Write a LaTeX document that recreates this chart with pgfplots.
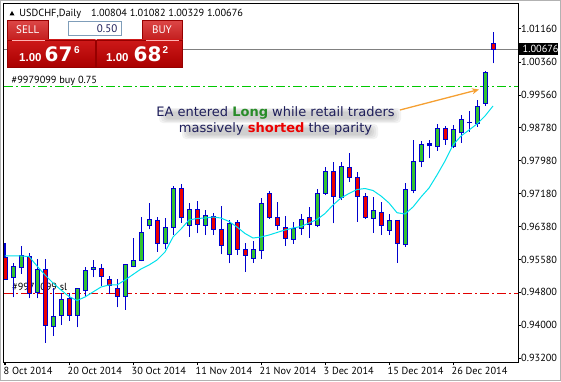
\documentclass[border=0pt]{standalone}
\usepackage{pgfplots}
\pgfplotsset{compat=1.18}
\usepackage{pgfplotstable}
\usepackage{fontspec}
\setmainfont{PT Sans}
\newfontfamily\dejavu{DejaVu Sans}
\newfontfamily\libsans{Liberation Sans}
\usetikzlibrary{arrows.meta}

\definecolor{cblue}{RGB}{0,0,205}
\definecolor{cgreen}{RGB}{50,195,50}
\definecolor{cred}{RGB}{235,0,0}
\definecolor{macyan}{RGB}{0,225,235}
\definecolor{ordergreen}{RGB}{0,200,0}
\definecolor{orderred}{RGB}{225,0,0}
\definecolor{navytxt}{RGB}{30,30,90}
\definecolor{longgreen}{RGB}{40,140,40}
\definecolor{arroworange}{RGB}{245,160,50}
\definecolor{tabtop}{RGB}{220,70,70}
\definecolor{tabbot}{RGB}{195,30,30}
\definecolor{pricetop}{RGB}{205,25,25}
\definecolor{pricebot}{RGB}{170,0,0}
\definecolor{tabborder}{RGB}{150,0,0}
\definecolor{lotborder}{RGB}{127,157,185}

\newcommand{\sm}{\fontsize{10.3}{12}\selectfont}

\pgfplotstableread{
i O H L C
1 0.95148 0.95496 0.94674 0.95431
2 0.95400 0.95915 0.95238 0.95673
4 0.94786 0.95593 0.94650 0.95351
6 0.93964 0.94892 0.93739 0.94222
7 0.94239 0.94771 0.94005 0.94626
9 0.94239 0.94895 0.93949 0.94892
10 0.94851 0.95400 0.94689 0.95334
11 0.95351 0.95576 0.95158 0.95400
15 0.94689 0.95479 0.94368 0.95472
16 0.95431 0.96101 0.95400 0.95576
17 0.95559 0.96616 0.95540 0.96229
18 0.96398 0.96947 0.96318 0.96560
20 0.95963 0.96599 0.95835 0.96367
21 0.96367 0.97372 0.96180 0.97309
23 0.96422 0.96947 0.96139 0.96802
25 0.96422 0.96785 0.96180 0.96640
28 0.95721 0.96543 0.95496 0.96463
31 0.95617 0.96035 0.95511 0.95818
32 0.95801 0.97068 0.95600 0.96930
36 0.96077 0.96502 0.95963 0.96342
37 0.96342 0.96688 0.96180 0.96560
39 0.96422 0.97285 0.96367 0.97188
40 0.97188 0.97817 0.97147 0.97710
42 0.97092 0.97952 0.97026 0.97848
46 0.96584 0.97092 0.96236 0.96761
48 0.96301 0.96688 0.96180 0.96526
50 0.95939 0.97430 0.95902 0.97285
51 0.97268 0.98477 0.97188 0.97952
52 0.97952 0.98460 0.97817 0.98373
54 0.98315 0.98856 0.98218 0.98760
56 0.98315 0.98832 0.98276 0.98735
57 0.98653 0.99081 0.98412 0.98977
59 0.98864 0.99444 0.98798 0.99282
60 0.99364 1.00145 0.99299 1.00113
}\bull

\pgfplotstableread{
i O H L C
0 0.95641 0.95994 0.95093 0.95110
3 0.95656 0.95753 0.94650 0.94771
5 0.95351 0.95593 0.93577 0.93981
8 0.94650 0.94771 0.94109 0.94230
12 0.95376 0.95479 0.94948 0.95189
13 0.95110 0.95189 0.94754 0.94948
14 0.94892 0.95110 0.94433 0.94699
19 0.96543 0.96608 0.95777 0.95963
22 0.97309 0.97406 0.96478 0.96599
24 0.96785 0.97002 0.96222 0.96446
26 0.96623 0.96719 0.96180 0.96318
27 0.96325 0.96881 0.95714 0.95915
29 0.96478 0.96543 0.95697 0.95818
30 0.95818 0.95980 0.95293 0.95673
33 0.97188 0.97244 0.96579 0.96608
34 0.96608 0.96971 0.96301 0.96398
35 0.96357 0.96640 0.95915 0.96096
38 0.96608 0.96864 0.96115 0.96446
41 0.97710 0.97952 0.96463 0.97123
43 0.97817 0.98155 0.97469 0.97575
44 0.97575 0.97710 0.96502 0.97123
45 0.97106 0.97188 0.96567 0.96608
47 0.96729 0.96985 0.96180 0.96398
49 0.96543 0.96555 0.95511 0.95975
55 0.98760 0.98815 0.98356 0.98494
61 1.00804 1.01082 1.00329 1.00676
}\bear

\pgfplotstableread{
i O H L C
53 0.98339 0.98477 0.98034 0.98373
58 0.98895 0.99185 0.98677 0.98897
}\doji

\pgfplotstableread{
i MA
0 0.95673
1 0.95673
2 0.95673
3 0.95661
4 0.95431
5 0.95214
6 0.95020
7 0.94851
8 0.94694
9 0.94597
10 0.94682
11 0.94803
12 0.94923
13 0.94972
14 0.94972
15 0.95093
16 0.95226
17 0.95359
18 0.95455
19 0.95576
20 0.95769
21 0.96132
22 0.96325
23 0.96543
24 0.96579
25 0.96591
26 0.96616
27 0.96591
28 0.96507
29 0.96374
30 0.96217
31 0.96108
32 0.96132
33 0.96180
34 0.96241
35 0.96301
36 0.96350
37 0.96386
38 0.96471
39 0.96555
40 0.96700
41 0.96906
42 0.97075
43 0.97184
44 0.97280
45 0.97304
46 0.97256
47 0.97123
48 0.96954
49 0.96719
50 0.96688
51 0.96857
52 0.97099
53 0.97316
54 0.97631
55 0.97969
56 0.98356
57 0.98573
58 0.98718
59 0.98864
60 0.99057
61 0.99299
}\ma

\newcommand{\lineA}[1]{EA entered \textbf{\textcolor{#1}{Long}} while retail traders}
\newcommand{\lineB}[1]{massively \textbf{\textcolor{#1}{shorted}} the parity}

\begin{document}
\begin{tikzpicture}
\useasboundingbox (-4pt,-19pt) rectangle (557pt,362pt);
\begin{axis}[
  at={(0pt,0pt)}, anchor=south west,
  scale only axis, width=514pt, height=358pt,
  xmin=-0.125, xmax=64.125, ymin=0.931106, ymax=1.017641,
  axis on top,
  axis line style={black, line width=1pt},
  tick style={black, line width=1pt},
  major tick length=3pt, tick align=outside,
  xtick pos=bottom, ytick pos=right, yticklabel pos=right,
  xtick={0,8,16,24,32,40,48,56},
  xticklabels={8 Oct 2014,20 Oct 2014,30 Oct 2014,11 Nov 2014,21 Nov 2014,3 Dec 2014,15 Dec 2014,26 Dec 2014},
  ytick={0.932,0.94,0.948,0.9558,0.9638,0.9718,0.9798,0.9878,0.9956,1.0036,1.0116},
  yticklabels={0.93200,0.94000,0.94800,0.95580,0.96380,0.97180,0.97980,0.98780,0.99560,1.00360,1.01160},
  xticklabel style={anchor=north west, inner sep=0pt, font=\sm, xshift=-1.5pt, yshift=-2pt},
  yticklabel style={anchor=west, inner sep=0pt, font=\sm},
]
% order and price lines
\addplot[ordergreen, line width=1pt, dash pattern=on 9pt off 3pt on 2pt off 3pt] coordinates {(-0.125,0.99775) (64.125,0.99775)};
\addplot[orderred, line width=1pt, dash pattern=on 9pt off 3pt on 2pt off 3pt] coordinates {(-0.125,0.94771) (64.125,0.94771)};
\addplot[gray, line width=1pt] coordinates {(-0.125,1.00676) (64.125,1.00676)};
\node[anchor=base west, inner sep=0pt, font=\sm] at (axis cs:0.875,0.94851) {\#9979099 sl};
% wicks
\addplot[cblue, line width=1pt, quiver={u=0, v=\thisrow{H}-\thisrow{L}}] table[x=i, y=L] {\bull};
\addplot[cblue, line width=1pt, quiver={u=0, v=\thisrow{H}-\thisrow{L}}] table[x=i, y=L] {\bear};
\addplot[cblue, line width=1pt, quiver={u=0, v=\thisrow{H}-\thisrow{L}}] table[x=i, y=L] {\doji};
% bodies: outline
\addplot[cblue, line width=5pt, line cap=butt, shorten <=-0.5pt, shorten >=-0.5pt, quiver={u=0, v=\thisrow{C}-\thisrow{O}}] table[x=i, y=O] {\bull};
\addplot[cblue, line width=5pt, line cap=butt, shorten <=-0.5pt, shorten >=-0.5pt, quiver={u=0, v=\thisrow{C}-\thisrow{O}}] table[x=i, y=O] {\bear};
\addplot[cblue, line width=5pt, line cap=butt, shorten <=-0.8pt, shorten >=-0.8pt, quiver={u=0, v=\thisrow{C}-\thisrow{O}}] table[x=i, y=O] {\doji};
% bodies: fill
\addplot[cgreen, line width=3pt, line cap=butt, shorten <=0.5pt, shorten >=0.5pt, quiver={u=0, v=\thisrow{C}-\thisrow{O}}] table[x=i, y=O] {\bull};
\addplot[cred, line width=3pt, line cap=butt, shorten <=0.5pt, shorten >=0.5pt, quiver={u=0, v=\thisrow{C}-\thisrow{O}}] table[x=i, y=O] {\bear};
% moving average
\addplot[macyan, line width=1pt] table[x=i, y=MA] {\ma};
\end{axis}

\begin{scope}[shift={(-4pt,362pt)}, x=1pt, y=-1pt]
% outer border
\draw[gray!60, line width=1pt] (0.5,0.5) rectangle (560.5,380.5);
% title
\fill (9.5,15.5) -- (14.5,15.5) -- (12,11) -- cycle;
\node[anchor=base west, inner sep=0pt, font=\sm] at (19.3,16.2) {USDCHF,Daily};
\node[anchor=base west, inner sep=0pt, font=\sm] at (91,16.2) {1.00804 1.01082 1.00329 1.00676};
% one-click panel
\shade[top color=tabtop, bottom color=tabbot, draw=tabborder] (7.5,20.5) rectangle (48.5,40);
\shade[top color=pricetop, bottom color=pricebot, draw=tabborder] (7.5,40) rectangle (95.5,67);
\shade[top color=tabtop, bottom color=tabbot, draw=tabborder] (142.5,20.5) rectangle (182.5,40);
\shade[top color=pricetop, bottom color=pricebot, draw=tabborder] (96.5,40) rectangle (182.5,67);
\draw[white!70!red, line width=0.6pt] (12,40) -- (45,40);
\draw[white!70!red, line width=0.6pt] (146,40) -- (179,40);
\node[anchor=base, inner sep=0pt, text=white, font=\fontsize{11}{12}\selectfont] at (27.8,33.4) {SELL};
\node[anchor=base, inner sep=0pt, text=white, font=\fontsize{11}{12}\selectfont] at (162,33.4) {BUY};
\draw[fill=white, draw=lotborder] (68.5,21.5) rectangle (121.5,35.5);
\node[anchor=base east, inner sep=0pt, text=navytxt, font=\fontsize{11}{12}\selectfont] at (117.5,32.3) {0.50};
% prices
\node[anchor=base west, inner sep=0pt, text=white, font=\libsans\bfseries\fontsize{11.5}{12}\selectfont] at (19,61.7) {1.00};
\node[anchor=base west, inner sep=0pt, text=white, font=\dejavu\bfseries\fontsize{20}{22}\selectfont] at (44.5,61.7) {67};
\node[anchor=base west, inner sep=0pt, text=white, font=\libsans\bfseries\fontsize{10}{11}\selectfont] at (74,53.8) {6};
\node[anchor=base west, inner sep=0pt, text=white, font=\libsans\bfseries\fontsize{11.5}{12}\selectfont] at (106,61.7) {1.00};
\node[anchor=base west, inner sep=0pt, text=white, font=\dejavu\bfseries\fontsize{20}{22}\selectfont] at (133.5,61.7) {68};
\node[anchor=base west, inner sep=0pt, text=white, font=\libsans\bfseries\fontsize{10}{11}\selectfont] at (162.5,53.8) {2};
% order label
\node[anchor=base west, inner sep=0pt, font=\sm] at (11.5,83.5) {\#9979099 buy 0.75};
% current price label
\fill[black] (519,43.3) rectangle (558,55.3);
\node[anchor=base west, inner sep=0pt, text=white, font=\sm] at (522.5,52.8) {1.00676};
% annotation soft shadow (haze under the text)
\foreach \ins/\op in {0/0.05,2/0.05,4/0.05,6/0.05} {
  \fill[black, opacity=\op, rounded corners=4pt] (159+\ins,108+\ins*0.6) rectangle (401-\ins,123-\ins*0.6);
  \fill[black, opacity=\op, rounded corners=4pt] (182+\ins,124+\ins*0.6) rectangle (378-\ins,139-\ins*0.6);
}
\node[anchor=base, inner sep=0pt, text=navytxt, font=\dejavu\fontsize{13}{15}\selectfont] at (275.5,116.5) {\lineA{longgreen}};
\node[anchor=base, inner sep=0pt, text=navytxt, font=\dejavu\fontsize{13}{15}\selectfont] at (275.5,132) {\lineB{cred}};
% arrow
\draw[arroworange, line width=1.3pt, -{Stealth[length=7pt, width=6pt]}] (400,110) -- (479,89.5);
\end{scope}
\end{tikzpicture}
\end{document}
